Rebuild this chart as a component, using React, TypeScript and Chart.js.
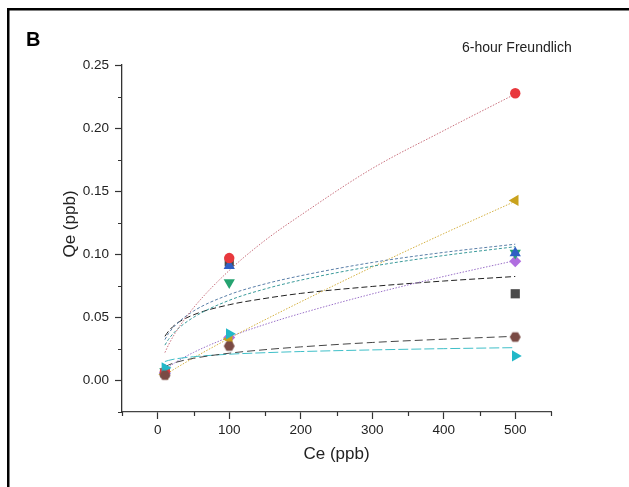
import React, { useEffect, useRef } from 'react';
import { Chart, registerables } from 'chart.js';

Chart.register(...registerables);

// Measured data (Ce in ppb, Qe in ppb)
const ceValues = [10, 100, 500];
const qeSquare = [0.006, 0.094, 0.0687];
const qeCircle = [0.007, 0.097, 0.2276];
const qeUpTri = [0.008, 0.091, 0.101];
const qeDownTri = [0.007, 0.0776, 0.101];
const qeDiamond = [0.006, 0.034, 0.0945];
const qeLeftTri = [0.005, 0.0328, 0.1427];
const qeRightTri = [0.01, 0.037, 0.0194];
const qeHexagon = [0.0042, 0.0273, 0.0344];

// Freundlich fit curves
const fitCe = [10, 15, 25, 50, 100, 150, 200, 300, 400, 500];
const fitCircle = [0.0221, 0.0281, 0.0381, 0.0576, 0.0872, 0.111, 0.131, 0.168, 0.198, 0.227];
const fitLeftTri = [0.0042, 0.0061, 0.0096, 0.0179, 0.0334, 0.0481, 0.0623, 0.0899, 0.1164, 0.142];
const fitUpTri = [0.0324, 0.0372, 0.044, 0.055, 0.068, 0.0765, 0.083, 0.0935, 0.1015, 0.108];
const fitDownTri = [0.028, 0.0325, 0.0392, 0.05, 0.0635, 0.0725, 0.0795, 0.0905, 0.099, 0.106];
const fitSquare = [0.035, 0.039, 0.0445, 0.052, 0.06, 0.065, 0.069, 0.0745, 0.0788, 0.0824];
const fitDiamond = [0.0081, 0.0104, 0.0144, 0.0222, 0.0344, 0.0444, 0.0531, 0.0686, 0.0824, 0.095];
const fitHexagon = [0.0108, 0.0122, 0.0143, 0.0175, 0.0216, 0.0244, 0.0266, 0.0301, 0.0327, 0.035];
const fitRightTri = [0.015, 0.0159, 0.0171, 0.0188, 0.0208, 0.022, 0.0229, 0.0242, 0.0252, 0.026];

const xTickMajors = [0, 100, 200, 300, 400, 500];
const yTickMajors = ['0.00', '0.05', '0.10', '0.15', '0.20', '0.25'];

const FONT = '"Liberation Sans", Arial, sans-serif';

function pts(xs: number[], ys: number[]) {
  return xs.map((x, i) => ({ x, y: ys[i] }));
}

function makeHexagon(color: string, r: number) {
  const c = document.createElement('canvas');
  const s = Math.ceil(r * 2 + 2);
  c.width = s;
  c.height = s;
  const g = c.getContext('2d')!;
  g.fillStyle = color;
  g.beginPath();
  for (let i = 0; i < 6; i++) {
    const a = (Math.PI / 3) * i;
    const px = s / 2 + r * Math.cos(a);
    const py = s / 2 + r * Math.sin(a);
    if (i === 0) g.moveTo(px, py);
    else g.lineTo(px, py);
  }
  g.closePath();
  g.fill();
  return c;
}

function isMajorX(v: number) {
  return xTickMajors.some((m) => Math.abs(m - v) < 1e-6);
}
function isMajorY(v: number) {
  return yTickMajors.some((m) => Math.abs(parseFloat(m) - v) < 1e-6);
}

export default function App() {
  const ref = useRef<HTMLCanvasElement | null>(null);

  useEffect(() => {
    if (!ref.current) return;
    const hex = makeHexagon('#7a4a44', 5.5);

    const scatter = (data: number[], color: string, style: any, radius: number, rotation = 0) => ({
      type: 'scatter' as const,
      data: pts(ceValues, data),
      backgroundColor: color,
      borderColor: color,
      borderWidth: 0,
      pointStyle: style,
      pointRadius: radius,
      pointRotation: rotation,
      showLine: false,
    });

    const fit = (data: number[], color: string, dash: number[], width = 1) => ({
      type: 'scatter' as const,
      data: pts(fitCe, data),
      borderColor: color,
      backgroundColor: color,
      borderWidth: width,
      borderDash: dash,
      pointRadius: 0,
      showLine: true,
      cubicInterpolationMode: 'monotone' as const,
    });

    const decor = {
      id: 'decor',
      afterDraw(chart: any) {
        const ctx = chart.ctx as CanvasRenderingContext2D;
        const xs = chart.scales.x;
        const ys = chart.scales.y;
        const area = chart.chartArea;
        ctx.save();
        // frame
        ctx.fillStyle = '#000';
        ctx.fillRect(7, 8, 640, 2.5);
        ctx.fillRect(7, 8, 2.5, 500);
        // minor ticks
        ctx.strokeStyle = '#333';
        ctx.lineWidth = 1.2;
        ctx.beginPath();
        xs.ticks.forEach((t: any) => {
          if (!isMajorX(t.value)) {
            const px = Math.round(xs.getPixelForValue(t.value)) + 0.5;
            ctx.moveTo(px, area.bottom);
            ctx.lineTo(px, area.bottom + 4);
          }
        });
        ys.ticks.forEach((t: any) => {
          if (!isMajorY(t.value)) {
            const py = Math.round(ys.getPixelForValue(t.value)) + 0.5;
            ctx.moveTo(area.left, py);
            ctx.lineTo(area.left - 4, py);
          }
        });
        ctx.stroke();
        // texts
        ctx.fillStyle = '#000';
        ctx.font = `bold 20px ${FONT}`;
        ctx.textAlign = 'left';
        ctx.textBaseline = 'alphabetic';
        ctx.fillText('B', 26, 46);
        ctx.fillStyle = '#222';
        ctx.font = `14px ${FONT}`;
        ctx.fillText('6-hour Freundlich', 462, 52);
        ctx.font = `17px ${FONT}`;
        ctx.textAlign = 'center';
        ctx.textBaseline = 'middle';
        ctx.fillText('Ce (ppb)', (area.left + area.right) / 2, 454);
        ctx.translate(70, 224);
        ctx.rotate(-Math.PI / 2);
        ctx.fillText('Qe (ppb)', 0, 0);
        ctx.restore();
      },
    };

    const chart = new Chart(ref.current, {
      type: 'scatter',
      data: {
        datasets: [
          scatter(qeHexagon, '#7a4a44', hex, 5.5),
          scatter(qeRightTri, '#22b8c8', 'triangle', 6.5, 90),
          scatter(qeCircle, '#e8383d', 'circle', 5.2),
          scatter(qeUpTri, '#2f5fc4', 'triangle', 6.5, 0),
          scatter(qeDownTri, '#25a370', 'triangle', 6.5, 180),
          scatter(qeLeftTri, '#c9a21d', 'triangle', 6.5, 270),
          scatter(qeDiamond, '#b06ee0', 'rectRot', 6),
          scatter(qeSquare, '#4a4a4a', 'rect', 6.5),
          fit(fitHexagon, '#444444', [8, 4]),
          fit(fitRightTri, '#3fbfc8', [10, 3]),
          fit(fitCircle, '#c86f7c', [1.5, 1.5]),
          fit(fitUpTri, '#5a7fa8', [3, 2]),
          fit(fitDownTri, '#3a9a9a', [3, 2]),
          fit(fitLeftTri, '#d4b040', [1.5, 1.5]),
          fit(fitDiamond, '#9a70c8', [1.5, 1.5]),
          fit(fitSquare, '#222222', [6, 3]),
        ],
      },
      options: {
        animation: false,
        responsive: false,
        devicePixelRatio: 1,
        layout: { padding: { left: 0, top: 65, right: 78, bottom: 0 } },
        plugins: {
          legend: { display: false },
          tooltip: { enabled: false },
          title: { display: false },
        },
        scales: {
          x: {
            type: 'linear',
            min: -50,
            max: 550,
            afterFit: (s: any) => {
              s.height = 75;
            },
            border: { display: true, color: '#444', width: 1.3 },
            grid: {
              display: true,
              drawOnChartArea: false,
              drawTicks: true,
              tickLength: 7,
              tickWidth: 1.2,
              tickColor: (c: any) => (c.tick && isMajorX(c.tick.value) ? '#333' : 'rgba(0,0,0,0)'),
            },
            ticks: {
              stepSize: 50,
              autoSkip: false,
              maxRotation: 0,
              padding: 3,
              color: '#222',
              font: { family: FONT, size: 13.5 },
              callback: (v: any) => (isMajorX(Number(v)) ? String(Math.round(Number(v))) : ''),
            },
          },
          y: {
            type: 'linear',
            min: -0.025,
            max: 0.25,
            afterFit: (s: any) => {
              s.width = 122;
            },
            border: { display: true, color: '#333', width: 1.3 },
            grid: {
              display: true,
              drawOnChartArea: false,
              drawTicks: true,
              tickLength: 7,
              tickWidth: 1.2,
              tickColor: (c: any) => (c.tick && isMajorY(c.tick.value) ? '#333' : 'rgba(0,0,0,0)'),
            },
            ticks: {
              stepSize: 0.025,
              autoSkip: false,
              padding: 6,
              color: '#222',
              font: { family: FONT, size: 13.5 },
              callback: (v: any) => {
                const n = Number(v);
                return isMajorY(n) ? n.toFixed(2) : '';
              },
            },
          },
        },
      },
      plugins: [decor],
    } as any);

    return () => chart.destroy();
  }, []);

  return (
    <div style={{ position: 'fixed', left: 0, top: 0, width: 629, height: 487, overflow: 'hidden', background: '#fff' }}>
      <canvas ref={ref} width={629} height={487} style={{ display: 'block', width: 629, height: 487 }} />
    </div>
  );
}
